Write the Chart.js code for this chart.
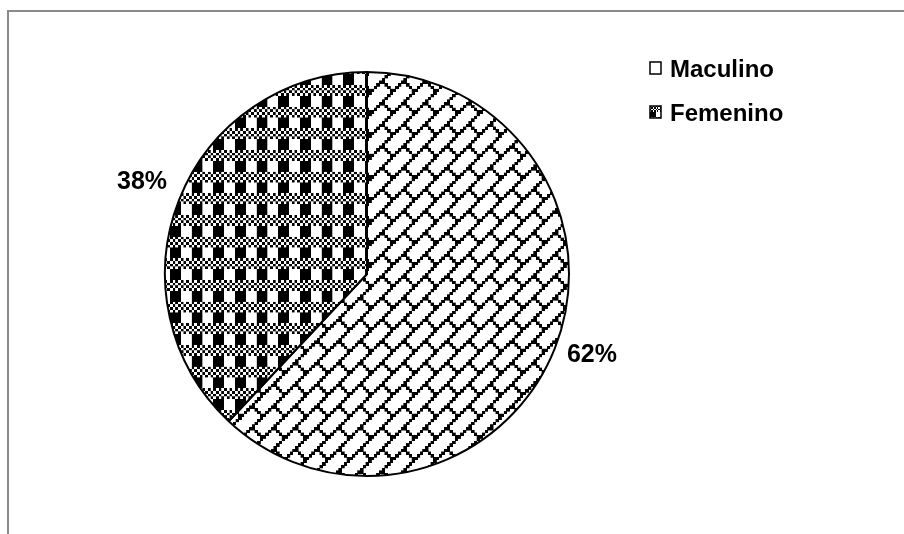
<!DOCTYPE html>
<html>
<head>
<meta charset="utf-8">
<script src="https://cdn.jsdelivr.net/npm/chart.js@4"></script>
<style>
  html, body { margin: 0; padding: 0; background: #ffffff; }
  #wrap { width: 904px; height: 534px; position: relative; overflow: hidden; }
  canvas { display: block; }
</style>
</head>
<body>
<div id="wrap"><canvas id="c" width="904" height="534"></canvas></div>
<script>
// ---- data ----
const categories = ['Maculino', 'Femenino'];
const shares = [62, 38];
const shareLabels = ['62%', '38%'];

// ---- fill patterns (Excel-like 8x8 hatch tiles) ----
const PLAID_ROWS = ['X.X.X.X.', '.X.X.X.X', 'X.X.X.X.', '.X.X.X.X',
                    'XXXX....', 'XXXX....', 'XXXX....', 'XXXX....'];
const BRICK_ROWS = ['.......X', '......X.', '.....X..', '....X...',
                    '...XX...', '..X..X..', '.X....X.', 'X......X'];

function makeTile(rows, grow) {
  const t = document.createElement('canvas');
  t.width = 64; t.height = 64;
  const g = t.getContext('2d');
  g.fillStyle = '#ffffff'; g.fillRect(0, 0, 64, 64);
  g.fillStyle = '#000000';
  rows.forEach((r, y) => {
    for (let x = 0; x < 8; x++) {
      if (r[x] !== 'X') continue;
      for (let dx = -1; dx <= 1; dx++) for (let dy = -1; dy <= 1; dy++) {
        if ((dx || dy) && !grow) continue;
        const px = ((x * 8 + dx * 64) ), py = ((y * 8 + dy * 64));
        g.fillRect(px - grow, py - grow, 8 + 2 * grow, 8 + 2 * grow);
      }
    }
  });
  return t;
}
const canvas = document.getElementById('c');
const ctx = canvas.getContext('2d');
function makePattern(rows, cell, ox, oy, grow) {
  const p = ctx.createPattern(makeTile(rows, grow || 0), 'repeat');
  const s = cell / 8;
  p.setTransform(new DOMMatrix([s, 0, 0, s, ox, oy]));
  return p;
}
const CELL = 2.708;
const brickFill = makePattern(BRICK_ROWS, CELL, 3, 5, 1);
const plaidFill = makePattern(PLAID_ROWS, CELL, 18.3, 20.0, 0);
const legendPlaid = makePattern(PLAID_ROWS, 1.4, 650, 106, 0);
const fills = [brickFill, plaidFill];
const legendFills = ['#ffffff', legendPlaid];

const FONT = 'bold 24px "Liberation Sans", Arial, sans-serif';
const LABEL_FONT = 'bold 25px "Liberation Sans", Arial, sans-serif';

// frame around the chart
const framePlugin = {
  id: 'frame',
  beforeDraw(chart) {
    const c = chart.ctx;
    c.save();
    c.strokeStyle = '#8a8a8a';
    c.lineWidth = 2;
    c.beginPath();
    c.moveTo(904, 11); c.lineTo(8, 11); c.lineTo(8, 534);
    c.stroke();
    c.restore();
  }
};

// percentage labels outside the slices
const labelPlugin = {
  id: 'outLabels',
  afterDatasetsDraw(chart) {
    const c = chart.ctx;
    const meta = chart.getDatasetMeta(0);
    c.save();
    c.font = LABEL_FONT;
    c.fillStyle = '#000000';
    meta.data.forEach((arc, i) => {
      const p = arc.getProps(['x', 'y', 'startAngle', 'endAngle', 'outerRadius'], true);
      const mid = (p.startAngle + p.endAngle) / 2;
      const cs = Math.cos(mid), sn = Math.sin(mid);
      const rr = p.outerRadius + 13;
      const ax = p.x + rr * cs;
      const ay = p.y + rr * sn;
      c.textAlign = cs >= 0 ? 'left' : 'right';
      c.textBaseline = 'middle';
      c.fillText(shareLabels[i], ax, ay - 5 + 20 * sn);
    });
    c.restore();
  }
};

// legend at the top right
const legendPlugin = {
  id: 'sideLegend',
  afterDraw(chart) {
    const c = chart.ctx;
    c.save();
    c.font = FONT;
    c.textAlign = 'left';
    c.textBaseline = 'alphabetic';
    chart.data.labels.forEach((lab, i) => {
      const by = 62 + i * 44;
      c.fillStyle = legendFills[i];
      c.fillRect(650, by, 11, 12);
      c.strokeStyle = '#000000';
      c.lineWidth = 1.5;
      c.strokeRect(650, by, 11, 12);
      c.fillStyle = '#000000';
      c.fillText(lab, 670, by + 15);
    });
    c.restore();
  }
};

new Chart(canvas, {
  type: 'pie',
  data: {
    labels: categories,
    datasets: [{
      data: shares,
      backgroundColor: fills,
      borderColor: '#000000',
      borderWidth: 2
    }]
  },
  options: {
    responsive: false,
    animation: false,
    devicePixelRatio: 1,
    layout: { padding: { left: 164, right: 334, top: 71, bottom: 57 } },
    plugins: { legend: { display: false }, tooltip: { enabled: false } }
  },
  plugins: [framePlugin, labelPlugin, legendPlugin]
});
</script>
</body>
</html>
